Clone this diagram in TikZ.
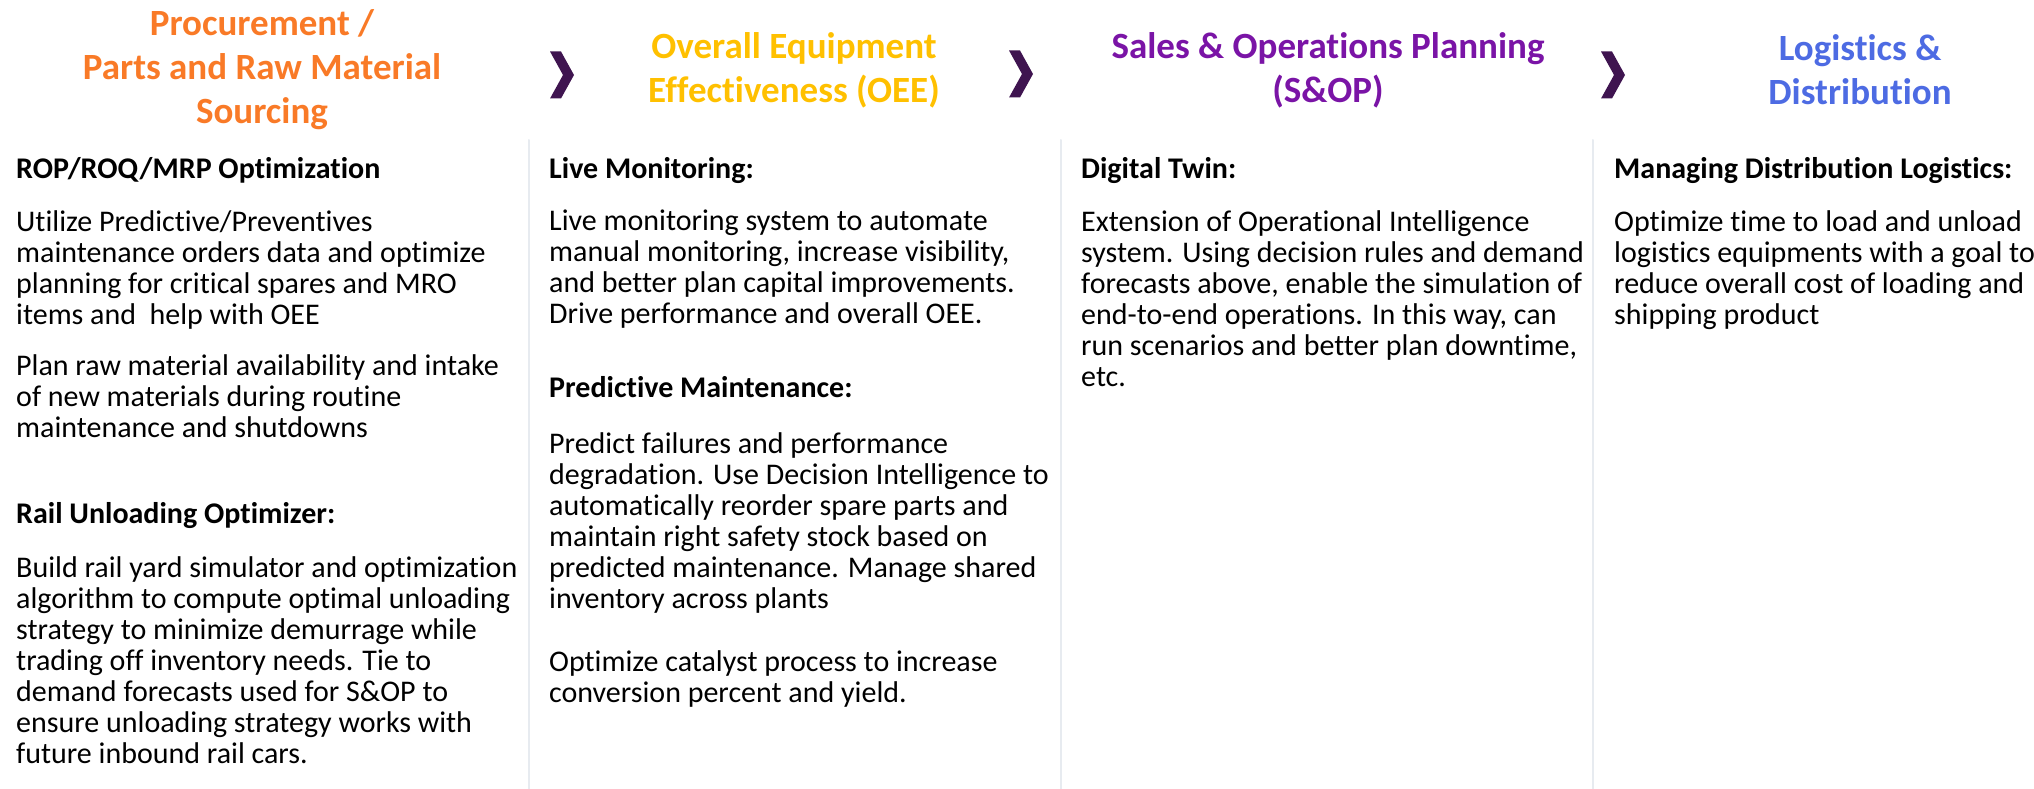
\documentclass[tikz,border=0pt]{standalone}
\usepackage{fontspec}
\setmainfont{Carlito}[Ligatures=NoCommon]
\usepackage{tikz}
\definecolor{procorange}{HTML}{F97A27}
\definecolor{oeegold}{HTML}{FFC000}
\definecolor{sopurple}{HTML}{7A14A6}
\definecolor{logblue}{HTML}{4D6BE3}
\definecolor{chevpurple}{HTML}{3F1450}
\definecolor{seprule}{HTML}{E7EBF0}
\tikzset{
  head/.style={align=center,inner sep=0pt,font=\fontsize{37}{44}\selectfont\bfseries},
  title/.style={anchor=north west,align=left,inner sep=0pt,font=\fontsize{30}{31}\selectfont\bfseries},
  body/.style={anchor=north west,align=left,inner sep=0pt,font=\fontsize{30}{31}\selectfont},
}

\begin{document}
\begin{tikzpicture}[x=1pt,y=1pt,line cap=round,line join=round]
        \useasboundingbox (0,0) rectangle (2034,-789);
        % separators and chevrons
        \foreach \sx in {529,1061,1593}
          \draw[seprule,line width=2pt] (\sx,-140) -- (\sx,-789);
        \foreach \cx/\cy in {550/75,1009/74,1601/75}
          \fill[chevpurple] (\cx,-\cy+23.5) -- ++(11,0) -- ++(13,-23.5) -- ++(-13,-23.5) -- ++(-11,0) -- ++(13,23.5) -- cycle;
        % headers
        \node[head,text=procorange] (hproc) at (262,-70) {Procurement /\\Parts and Raw Material\\Sourcing};
        \node[head,text=oeegold] (hoee) at (794,-70) {Overall Equipment\\Effectiveness (OEE)};
        \node[head,text=sopurple] (hsop) at (1328,-70) {Sales \& Operations Planning\\(S\&OP)};
        \node[head,text=logblue] (hlog) at (1860,-70) {Logistics \&\\Distribution};
        % procurement column
        \node[title] (trop) at (16,-157) {ROP/ROQ/MRP Optimization};
        \node[body] (prop) at (16,-210) {Utilize Predictive/Preventives\\maintenance orders data and optimize\\planning for critical spares and MRO\\items and\ \ help with OEE};
        \node[body] (praw) at (16,-354) {Plan raw material availability and intake\\of new materials during routine\\maintenance and shutdowns};
        \node[title] (trail) at (16,-502) {Rail Unloading Optimizer:};
        \node[body] (prail) at (16,-556) {Build rail yard simulator and optimization\\algorithm to compute optimal unloading\\strategy to minimize demurrage while\\trading off inventory needs. Tie to\\demand forecasts used for S\&OP to\\ensure unloading strategy works with\\future inbound rail cars.};
        % oee column
        \node[title] (tlive) at (549,-157) {Live Monitoring:};
        \node[body] (plive) at (549,-210) {Live monitoring system to automate\\manual monitoring, increase visibility,\\and better plan capital improvements.\\Drive performance and overall OEE.};
        \node[title] (tpred) at (549,-376) {Predictive Maintenance:};
        \node[body] (ppred) at (549,-432) {Predict failures and performance\\degradation. Use Decision Intelligence to\\automatically reorder spare parts and\\maintain right safety stock based on\\predicted maintenance. Manage shared\\inventory across plants};
        \node[body] (pcat) at (549,-650) {Optimize catalyst process to increase\\conversion percent and yield.};
        % s&op column
        \node[title] (ttwin) at (1081,-157) {Digital Twin:};
        \node[body] (ptwin) at (1081,-210) {Extension of Operational Intelligence\\system. Using decision rules and demand\\forecasts above, enable the simulation of\\end-to-end operations. In this way, can\\run scenarios and better plan downtime,\\etc.};
        % logistics column
        \node[title] (tdist) at (1614,-157) {Managing Distribution Logistics:};
        \node[body] (pdist) at (1614,-210) {Optimize time to load and unload\\logistics equipments with a goal to\\reduce overall cost of loading and\\shipping product};
      \end{tikzpicture}
\end{document}
